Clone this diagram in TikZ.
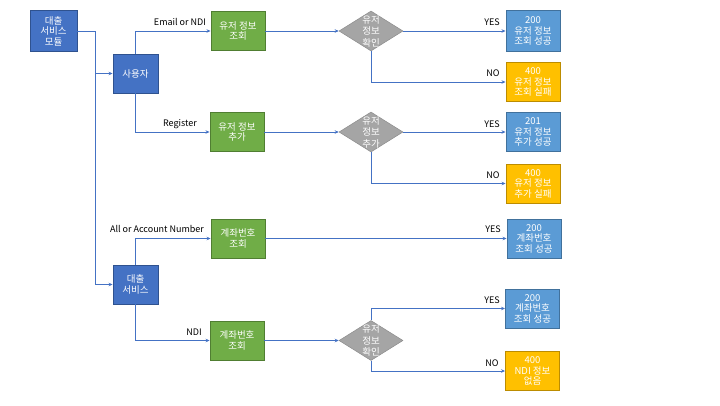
\documentclass[tikz,border=0pt]{standalone}
\usepackage{fontspec}
\setmainfont{Noto Sans CJK KR}
\usetikzlibrary{shapes.geometric,arrows.meta}
\definecolor{cblue}{HTML}{4472C4}
\definecolor{cblueb}{HTML}{2F528F}
\definecolor{cgreen}{HTML}{70AD47}
\definecolor{cgreenb}{HTML}{507E32}
\definecolor{cgray}{HTML}{A5A5A5}
\definecolor{cgrayb}{HTML}{8C8C8C}
\definecolor{clblue}{HTML}{5B9BD5}
\definecolor{clblueb}{HTML}{41719C}
\definecolor{cgold}{HTML}{FFC000}
\definecolor{cgoldb}{HTML}{BC8C00}
\definecolor{cline}{HTML}{4472C4}
\begin{document}
\begin{tikzpicture}[x=1pt,y=-1pt,
  box/.style={draw,line width=0.9pt,text=white,align=center,inner sep=0pt,
    font=\fontsize{9.5}{10.5}\selectfont,minimum height=39pt},
  bluebox/.style={box,fill=cblue,draw=cblueb,minimum width=45pt},
  greenbox/.style={box,fill=cgreen,draw=cgreenb,minimum width=54pt},
  lbluebox/.style={box,fill=clblue,draw=clblueb,minimum width=54pt},
  goldbox/.style={box,fill=cgold,draw=cgoldb,minimum width=54pt},
  dia/.style={diamond,fill=cgray,draw=cgrayb,line width=0.5pt,inner sep=0pt,
    minimum width=64pt,minimum height=40pt},
  dtext/.style={text=white,align=center,inner sep=0pt,font=\fontsize{9.5}{11.5}\selectfont},
  arr/.style={draw=cline,line width=0.8pt,-{Stealth[length=4pt,width=3.5pt]}},
  ln/.style={draw=cline,line width=0.8pt},
  lbl/.style={font=\fontsize{9}{10}\selectfont,text=black,inner sep=0pt}
]
\useasboundingbox (0,0) rectangle (720,405);

% left column
\node[bluebox,minimum width=47pt,minimum height=41pt] (mod) at (53.5,31) {대출\\서비스\\모듈};
\node[bluebox] (user) at (135.5,73.5) {사용자};
\node[bluebox] (loan) at (135.5,284.5) {대출\\서비스};

% green boxes
\node[greenbox] (g1) at (238,31) {유저 정보\\조회};
\node[greenbox] (g2) at (237,132) {유저 정보\\추가};
\node[greenbox] (g3) at (238,238.5) {계좌번호\\조회};
\node[greenbox] (g4) at (237,340.5) {계좌번호\\조회};

% diamonds
\node[dia] (d1) at (371,31) {};
\node[dtext] at (d1) {유저\\정보\\확인};
\node[dia] (d2) at (371,132) {};
\node[dtext] at (d2) {유저\\정보\\추가};
\node[dia] (d3) at (371,340.5) {};
\node[dtext] at (d3) {유저\\정보\\확인};

% results
\node[lbluebox,minimum height=41pt] (r1) at (533,31) {200\\유저 정보\\조회 성공};
\node[goldbox] (r2) at (533,82) {400\\유저 정보\\조회 실패};
\node[lbluebox] (r3) at (533,132) {201\\유저 정보\\추가 성공};
\node[goldbox] (r4) at (533,183.5) {400\\유저 정보\\추가 실패};
\node[lbluebox] (r5) at (534,238.5) {200\\계좌번호\\조회 성공};
\node[lbluebox] (r6) at (532.5,308.5) {200\\계좌번호\\조회 성공};
\node[goldbox] (r7) at (532.5,371) {400\\NDI 정보\\없음};

% connectors
\coordinate (j) at (95,31);
\draw[ln] (mod.east) -- (j);
\draw[arr] (j) |- (user.west);
\draw[arr] (j) |- (loan.west);

\draw[arr] (user.north) |- (g1.west);
\draw[arr] (user.south) |- (g2.west);
\draw[arr] (loan.north) |- (g3.west);
\draw[arr] (loan.south) |- (g4.west);

\draw[arr] (g1.east) -- (d1.west);
\draw[arr] (g2.east) -- (d2.west);
\draw[arr] (g3.east) -- (r5.west);
\draw[arr] (g4.east) -- (d3.west);

\draw[arr] (d1.east) -- (r1.west);
\draw[arr] (d1.south) |- (r2.west);
\draw[arr] (d2.east) -- (r3.west);
\draw[arr] (d2.south) |- (r4.west);
\draw[arr] (d3.north) |- (r6.west);
\draw[arr] (d3.south) |- (r7.west);

% labels
\node[lbl] (l1) at (180,22) {Email or NDI};
\node[lbl] (l2) at (180,124) {Register};
\node[lbl] (l3) at (157,229) {All or Account Number};
\node[lbl] (l4) at (194,332) {NDI};
\node[lbl] (y1) at (492,22) {YES};
\node[lbl] (n1) at (493,73) {NO};
\node[lbl] (y2) at (492,124) {YES};
\node[lbl] (n2) at (493,175) {NO};
\node[lbl] (y3) at (493,229) {YES};
\node[lbl] (y4) at (492,300) {YES};
\node[lbl] (n3) at (492,363) {NO};
\end{tikzpicture}
\end{document}
